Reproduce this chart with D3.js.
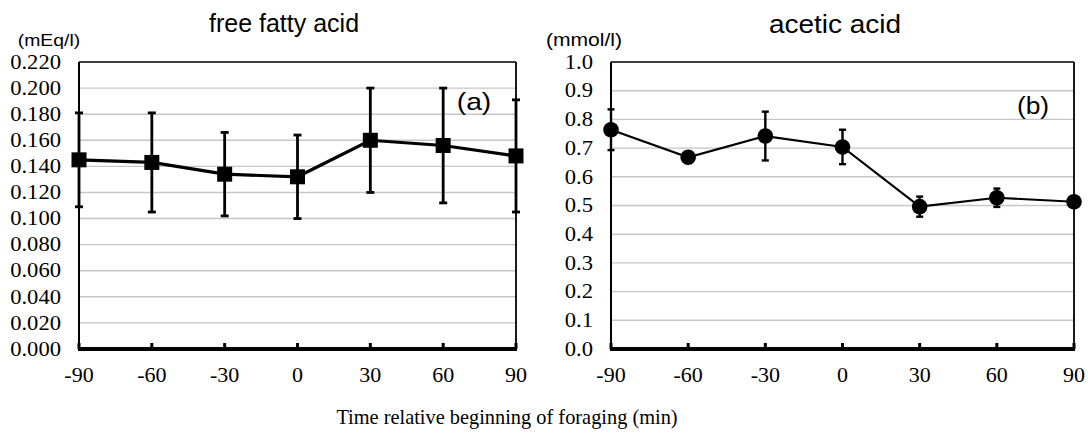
<!DOCTYPE html>
<html>
<head>
<meta charset="utf-8">
<script src="https://cdn.jsdelivr.net/npm/d3@7"></script>
<style>
  body { margin: 0; background: #fff; }
  svg { display: block; }
</style>
</head>
<body>
<svg width="1088" height="434"></svg>
<script>
// time points (min)
var times = [-90, -60, -30, 0, 30, 60, 90]

// free fatty acid (mEq/l)
var ffaMean = [0.145, 0.143, 0.134, 0.132, 0.160, 0.156, 0.148]
var ffaErr = [0.036, 0.038, 0.032, 0.032, 0.040, 0.044, 0.043]
var ffaTicks = d3.range(0, 0.2201, 0.02)

// acetic acid (mmol/l)
var aceMean = [0.764, 0.668, 0.742, 0.704, 0.496, 0.527, 0.513]
var aceErr = [0.071, 0.018, 0.085, 0.060, 0.035, 0.032, 0.010]
var aceTicks = d3.range(0, 1.001, 0.1)

var SERIF = 'Liberation Serif, Times New Roman, serif'
var SANS = 'Liberation Sans, Arial, sans-serif'
var svg = d3.select('svg')

// text, a bit wider than the font (sx) as in the picture
function txt (g, x, y, s, font, size, anchor, sx) {
  return g.append('text')
    .attr('transform', 'translate(' + x + ',' + y + ') scale(' + sx + ',1)')
    .attr('text-anchor', anchor)
    .style('font-family', font)
    .style('font-size', size + 'px')
    .attr('fill', '#000')
    .text(s)
}

function panel (opt) {
  var g = svg.append('g')
  var x = d3.scaleLinear().domain([-90, 90]).range([opt.left, opt.right])
  var y = d3.scaleLinear().domain([0, opt.max]).range([349, 62])

  // gridlines
  g.selectAll('line.grid')
    .data(opt.ticks.slice(1, -1))
    .enter().append('line')
    .attr('x1', opt.left).attr('x2', opt.right)
    .attr('y1', d => y(d)).attr('y2', d => y(d))
    .attr('stroke', '#c6c6c6').attr('stroke-width', 1.4)

  // frame
  g.append('line').attr('x1', opt.left).attr('x2', opt.right).attr('y1', y(opt.max)).attr('y2', y(opt.max))
    .attr('stroke', '#000').attr('stroke-width', 1.6)
  g.append('line').attr('x1', opt.right).attr('x2', opt.right).attr('y1', y(opt.max)).attr('y2', y(0))
    .attr('stroke', '#000').attr('stroke-width', 1.8)
  g.append('line').attr('x1', opt.left).attr('x2', opt.left).attr('y1', y(opt.max)).attr('y2', y(0))
    .attr('stroke', '#000').attr('stroke-width', 2)

  // x ticks (inside)
  g.selectAll('line.xt')
    .data(times)
    .enter().append('line')
    .attr('x1', d => x(d)).attr('x2', d => x(d))
    .attr('y1', 343).attr('y2', 349)
    .attr('stroke', '#000').attr('stroke-width', 3)
  g.append('line').attr('x1', opt.left - 1).attr('x2', opt.right + 1).attr('y1', 349).attr('y2', 349)
    .attr('stroke', '#000').attr('stroke-width', 4.2)

  // y tick labels
  opt.ticks.forEach(function (t) {
    txt(g, opt.left - 18, y(t) + 6.7, d3.format(opt.fmt)(t), SERIF, 20, 'end', 1.13)
  })
  // x tick labels
  times.forEach(function (t) {
    txt(g, x(t), 382, String(t), SERIF, 20, 'middle', 1.1)
  })

  // error bars
  var eb = g.selectAll('g.eb').data(times).enter().append('g')
  eb.append('line')
    .attr('x1', d => x(d)).attr('x2', d => x(d))
    .attr('y1', (d, i) => y(opt.mean[i] + opt.err[i]))
    .attr('y2', (d, i) => y(opt.mean[i] - opt.err[i]))
    .attr('stroke', '#000').attr('stroke-width', opt.ebw)
  ;[1, -1].forEach(function (s) {
    eb.append('line')
      .attr('x1', d => x(d) - opt.cap).attr('x2', d => x(d) + opt.cap)
      .attr('y1', (d, i) => y(opt.mean[i] + s * opt.err[i]))
      .attr('y2', (d, i) => y(opt.mean[i] + s * opt.err[i]))
      .attr('stroke', '#000').attr('stroke-width', opt.ebw)
  })

  // line
  var line = d3.line().x((d, i) => x(times[i])).y(d => y(d))
  g.append('path').datum(opt.mean).attr('d', line)
    .attr('fill', 'none').attr('stroke', '#000').attr('stroke-width', opt.lw)

  // markers
  if (opt.square) {
    g.selectAll('rect.m').data(opt.mean).enter().append('rect')
      .attr('x', (d, i) => x(times[i]) - 7.5).attr('y', d => y(d) - 7.5)
      .attr('width', 15).attr('height', 15).attr('fill', '#000')
  } else {
    g.selectAll('circle.m').data(opt.mean).enter().append('circle')
      .attr('cx', (d, i) => x(times[i])).attr('cy', d => y(d))
      .attr('r', 7.8).attr('fill', '#000')
  }

  // titles
  txt(g, opt.titleX, opt.titleY, opt.title, SANS, 25, 'middle', opt.titleSx)
  txt(g, opt.unitX, 46, opt.unit, SANS, opt.unitSize, 'middle', 1.14)
  txt(g, opt.tagX, opt.tagY, opt.tag, SANS, 24, 'middle', opt.tagSx)
}

panel({
  left: 79, right: 516, max: 0.22, ticks: ffaTicks, fmt: '.3f',
  mean: ffaMean, err: ffaErr, square: true, lw: 3.2, ebw: 2.8, cap: 4,
  title: 'free fatty acid', titleX: 284, titleY: 32, titleSx: 1.0,
  unit: '(mEq/l)', unitX: 49, unitSize: 17,
  tag: '(a)', tagX: 474, tagY: 110, tagSx: 1.18
})

panel({
  left: 611, right: 1074, max: 1.0, ticks: aceTicks, fmt: '.1f',
  mean: aceMean, err: aceErr, square: false, lw: 2.2, ebw: 2.4, cap: 3.5,
  title: 'acetic acid', titleX: 835, titleY: 33, titleSx: 1.12,
  unit: '(mmol/l)', unitX: 584, unitSize: 18.5,
  tag: '(b)', tagX: 1033, tagY: 114, tagSx: 1.1
})

txt(svg, 507, 424, 'Time relative beginning of foraging (min)', SERIF, 21, 'middle', 0.97)
</script>
</body>
</html>
